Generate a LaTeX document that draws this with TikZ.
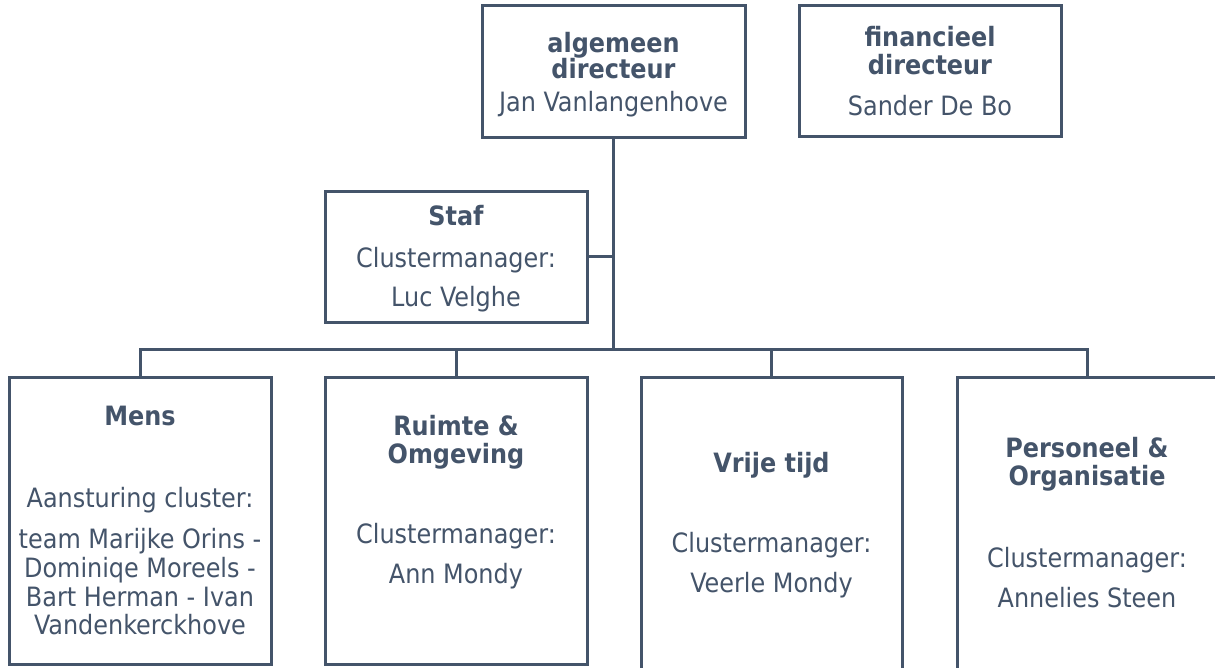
\documentclass[tikz,border=0pt]{standalone}
\usepackage{fontspec}
\setmainfont{DejaVu Sans Condensed}
\definecolor{ink}{HTML}{44546A}
\tikzset{
  box/.style={draw=ink, line width=3pt, rectangle, inner sep=0pt, fill=white},
  conn/.style={draw=ink, line width=3pt},
  txt/.style={text=ink, font=\fontsize{26.6}{29}\selectfont, anchor=base, inner sep=0pt},
  hd/.style={text=ink, font=\fontsize{26.6}{29}\selectfont\bfseries, anchor=base, inner sep=0pt}
}
\begin{document}
\begin{tikzpicture}[x=1pt,y=-1pt]
\clip (0,0) rectangle (1215,667);
\fill[white] (0,0) rectangle (1215,667);

% boxes
\node[box, minimum width=263pt, minimum height=132pt] (alg) at (613.5,71) {};
\node[box, minimum width=262pt, minimum height=131pt] (fin) at (930,70.5) {};
\node[box, minimum width=262pt, minimum height=131pt] (staf) at (456,256.5) {};
\node[box, minimum width=262pt, minimum height=287pt] (mens) at (140,520.5) {};
\node[box, minimum width=262pt, minimum height=287pt] (ruimte) at (456,520.5) {};
\node[box, minimum width=261pt, minimum height=340pt] (vrije) at (771.5,547) {};
\node[box, minimum width=260pt, minimum height=340pt] (pers) at (1087,547) {};

\coordinate (bus) at (613.5,349);

% connectors
\draw[conn] (alg.south) -- (alg.south |- bus);
\draw[conn] (staf.east) -- (staf.east -| alg.south);
\draw[conn] (mens.north) -- (mens.north |- bus) -- (pers.north |- bus) -- (pers.north);
\draw[conn] (ruimte.north) -- (ruimte.north |- bus);
\draw[conn] (vrije.north) -- (vrije.north |- bus);

% texts: algemeen directeur
\node[hd] (t1) at (613.5,52) {algemeen};
\node[hd] (t2) at (613.5,78) {directeur};
\node[txt] (t3) at (613.5,111) {Jan Vanlangenhove};
% financieel directeur
\node[hd] (t4) at (930,46) {financieel};
\node[hd] (t5) at (930,74) {directeur};
\node[txt] (t6) at (930,115) {Sander De Bo};
% Staf
\node[hd] (t7) at (456,225) {Staf};
\node[txt] (t8) at (456,267) {Clustermanager:};
\node[txt] (t9) at (456,306) {Luc Velghe};
% Mens
\node[hd] (t10) at (140,425) {Mens};
\node[txt] (t11) at (140,507) {Aansturing cluster:};
\node[txt] (t12) at (140,548) {team Marijke Orins -};
\node[txt] (t13) at (140,577) {Dominiqe Moreels -};
\node[txt] (t14) at (140,606) {Bart Herman - Ivan};
\node[txt] (t15) at (140,634) {Vandenkerckhove};
% Ruimte
\node[hd] (t16) at (456,435) {Ruimte \&};
\node[hd] (t17) at (456,463) {Omgeving};
\node[txt] (t18) at (456,543) {Clustermanager:};
\node[txt] (t19) at (456,583) {Ann Mondy};
% Vrije tijd
\node[hd] (t20) at (771.5,472) {Vrije tijd};
\node[txt] (t21) at (771.5,552) {Clustermanager:};
\node[txt] (t22) at (771.5,592) {Veerle Mondy};
% Personeel
\node[hd] (t23) at (1087,457) {Personeel \&};
\node[hd] (t24) at (1087,485) {Organisatie};
\node[txt] (t25) at (1087,567) {Clustermanager:};
\node[txt] (t26) at (1087,607) {Annelies Steen};
\end{tikzpicture}
\end{document}
